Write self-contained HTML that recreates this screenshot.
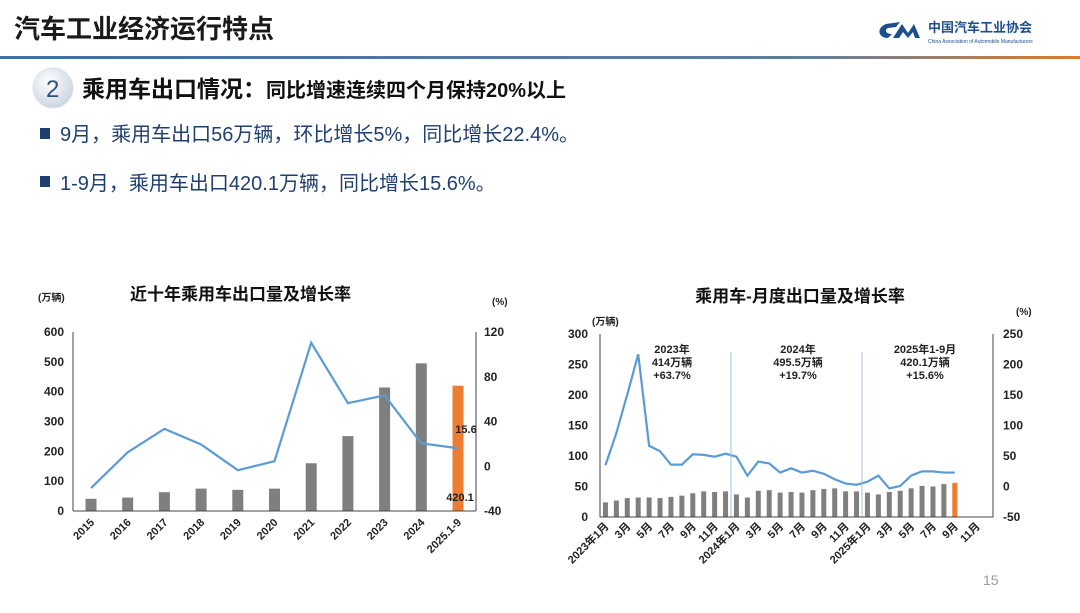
<!DOCTYPE html>
<html><head><meta charset="utf-8">
<style>
html,body{margin:0;padding:0;background:#fff;}
body{width:1080px;height:608px;overflow:hidden;position:relative;font-family:"Liberation Sans","Noto Sans CJK SC",sans-serif;}
svg text{font-family:"Liberation Sans","Noto Sans CJK SC",sans-serif;}
</style></head><body>
<svg id="s" width="1080" height="608" xmlns="http://www.w3.org/2000/svg">
<defs>
<linearGradient id="hl" x1="0" x2="1"><stop offset="0" stop-color="#3f6fa3"/><stop offset="0.75" stop-color="#5f7f9f"/><stop offset="1" stop-color="#e07a2e"/></linearGradient>
<radialGradient id="cg" cx="0.4" cy="0.35" r="0.7"><stop offset="0" stop-color="#ffffff"/><stop offset="1" stop-color="#c9d3e0"/></radialGradient>
</defs>
<text x="14" y="38" font-size="26" font-weight="bold" fill="#1a1a1a">汽车工业经济运行特点</text>
<rect x="0" y="56" width="1080" height="3" fill="url(#hl)"/>
<path d="M888 38 C878 38 876 28 886 24 L900 22 L896 27 L888 28 C884 30 886 34 892 34 Z" fill="#1f4e8c"/>
<path d="M893 38 L902 24 L908 33 L914 24 L920 38 L915 38 L913 32 L908 38 L903 32 L899 38 Z" fill="#1f4e8c"/>
<text x="928" y="32" font-size="13" font-weight="bold" fill="#1f4e8c">中国汽车工业协会</text>
<text x="928" y="43" font-size="5" fill="#1f4e8c">China Association of Automobile Manufacturers</text>
<circle cx="53" cy="88" r="20" fill="url(#cg)" stroke="#dde3ea"/>
<text x="46" y="97" font-size="24" fill="#2f4f7f">2</text>
<text x="82" y="97" font-size="23" font-weight="bold" fill="#111">乘用车出口情况：<tspan font-size="20">同比增速连续四个月保持20%以上</tspan></text>
<rect x="40" y="128" width="10" height="11" fill="#1f3f6f"/>
<text x="60" y="141" font-size="20" fill="#1f3f6f">9月，乘用车出口56万辆，环比增长5%，同比增长22.4%。</text>
<rect x="40" y="176" width="10" height="11" fill="#1f3f6f"/>
<text x="60" y="190" font-size="20" fill="#1f3f6f">1-9月，乘用车出口420.1万辆，同比增长15.6%。</text>
<text x="983" y="585" font-size="14" fill="#999">15</text>
<g id="g1"></g><g id="g2"></g>
</svg>
<script>
var NS="http://www.w3.org/2000/svg";
function el(p,t,a,txt){var e=document.createElementNS(NS,t);for(var k in a)e.setAttribute(k,a[k]);if(txt!=null)e.textContent=txt;p.appendChild(e);return e;}
var g=document.getElementById('g1');
el(g,'text',{x:130,y:300,'font-size':17,'font-weight':'bold',fill:'#111'},'近十年乘用车出口量及增长率');
el(g,'text',{x:38,y:301,'font-size':10,'font-weight':'bold',fill:'#222'},'(万辆)');
el(g,'text',{x:492,y:305,'font-size':10,'font-weight':'bold',fill:'#222'},'(%)');
var L=73,R=476,T=332,B=511;
for(var i=0;i<=6;i++){var y=B-i*(B-T)/6;el(g,'text',{x:64,y:y+4,'font-size':12,'font-weight':'bold','text-anchor':'end',fill:'#222'},i*100);}
for(var i=0;i<=4;i++){var y=B-i*(B-T)/4;el(g,'text',{x:484,y:y+4,'font-size':12,'font-weight':'bold',fill:'#222'},-40+i*40);}
var yrs=['2015','2016','2017','2018','2019','2020','2021','2022','2023','2024','2025.1-9'];
var bv=[41,45,63,75,71,75,160,251,414,495,420];
var pv=[-20,12,33,19,-4,4,110,56,63,20,15.6];
var pts=[];
for(var i=0;i<11;i++){var cx=91+i*36.7;var h=bv[i]*(B-T)/600;
el(g,'rect',{x:cx-5.5,y:B-h,width:11,height:h,fill:i==10?'#ed7d31':'#7f7f7f'});
pts.push(cx+','+(465.7-pv[i]*1.117));
el(g,'text',{x:0,y:0,'font-size':11,'font-weight':'bold','text-anchor':'end',fill:'#222',transform:'translate('+(cx+4)+','+(B+12)+') rotate(-45)'},yrs[i]);}
el(g,'polyline',{points:pts.join(' '),fill:'none',stroke:'#5b9bd5','stroke-width':2.2});
el(g,'line',{x1:L,y1:T,x2:L,y2:B,stroke:'#444'});el(g,'line',{x1:R,y1:T,x2:R,y2:B,stroke:'#444'});el(g,'line',{x1:L,y1:B,x2:R,y2:B,stroke:'#444'});
el(g,'text',{x:466,y:433,'font-size':11,'font-weight':'bold','text-anchor':'middle',fill:'#222'},'15.6');
el(g,'text',{x:460,y:501,'font-size':11,'font-weight':'bold','text-anchor':'middle',fill:'#222'},'420.1');
g=document.getElementById('g2');
el(g,'text',{x:800,y:302,'font-size':17,'font-weight':'bold','text-anchor':'middle',fill:'#111'},'乘用车-月度出口量及增长率');
el(g,'text',{x:592,y:325,'font-size':10,'font-weight':'bold',fill:'#222'},'(万辆)');
el(g,'text',{x:1016,y:315,'font-size':10,'font-weight':'bold',fill:'#222'},'(%)');
L=600;R=993;T=334;B=517;
for(var i=0;i<=6;i++){var y=B-i*(B-T)/6;el(g,'text',{x:588,y:y+4,'font-size':12,'font-weight':'bold','text-anchor':'end',fill:'#222'},i*50);}
for(var i=0;i<=6;i++){var y=B-i*(B-T)/6;el(g,'text',{x:1003,y:y+4,'font-size':12,'font-weight':'bold',fill:'#222'},-50+i*50);}
var mb=[24,27,31,32,32,31,33,35,39,42,41,42,37,32,43,44,40,41,40,44,46,47,42,42,40,37,41,43,47,51,50,54,56];
var mp=[34,87,150,216,66,57,35,35,52,51,48,53,48,17,40,37,22,29,22,25,20,11,4,2,7,17,-4,0,17,24,24,22,22];
var sc=(B-T)/300;pts=[];var w=393/36;
for(var i=0;i<33;i++){var cx=L+w*(i+0.5);var h=mb[i]*sc;
el(g,'rect',{x:cx-2.5,y:B-h,width:5,height:h,fill:i==32?'#ed7d31':'#7f7f7f'});
pts.push(cx+','+(486-mp[i]*sc));}
el(g,'polyline',{points:pts.join(' '),fill:'none',stroke:'#5b9bd5','stroke-width':2.2});
var labs={0:'2023年1月',12:'2024年1月',24:'2025年1月'};
for(var i=0;i<36;i+=2){var cx=L+w*(i+0.5);var t=labs[i]||((i%12)+1)+'月';
el(g,'text',{x:0,y:0,'font-size':11,'font-weight':'bold','text-anchor':'end',fill:'#222',transform:'translate('+(cx+4)+','+(B+10)+') rotate(-45)'},t);}
el(g,'line',{x1:731,y1:352,x2:731,y2:B,stroke:'#9dc3e6'});el(g,'line',{x1:862,y1:352,x2:862,y2:B,stroke:'#9dc3e6'});
el(g,'line',{x1:L,y1:T,x2:L,y2:B,stroke:'#444'});el(g,'line',{x1:R,y1:T,x2:R,y2:B,stroke:'#444'});el(g,'line',{x1:L,y1:B,x2:R,y2:B,stroke:'#444'});
var ann=[[672,['2023年','414万辆','+63.7%']],[798,['2024年','495.5万辆','+19.7%']],[925,['2025年1-9月','420.1万辆','+15.6%']]];
ann.forEach(function(a){for(var j=0;j<3;j++)el(g,'text',{x:a[0],y:353+j*13,'font-size':11,'font-weight':'bold','text-anchor':'middle',fill:'#222'},a[1][j]);});
</script>
</body></html>
